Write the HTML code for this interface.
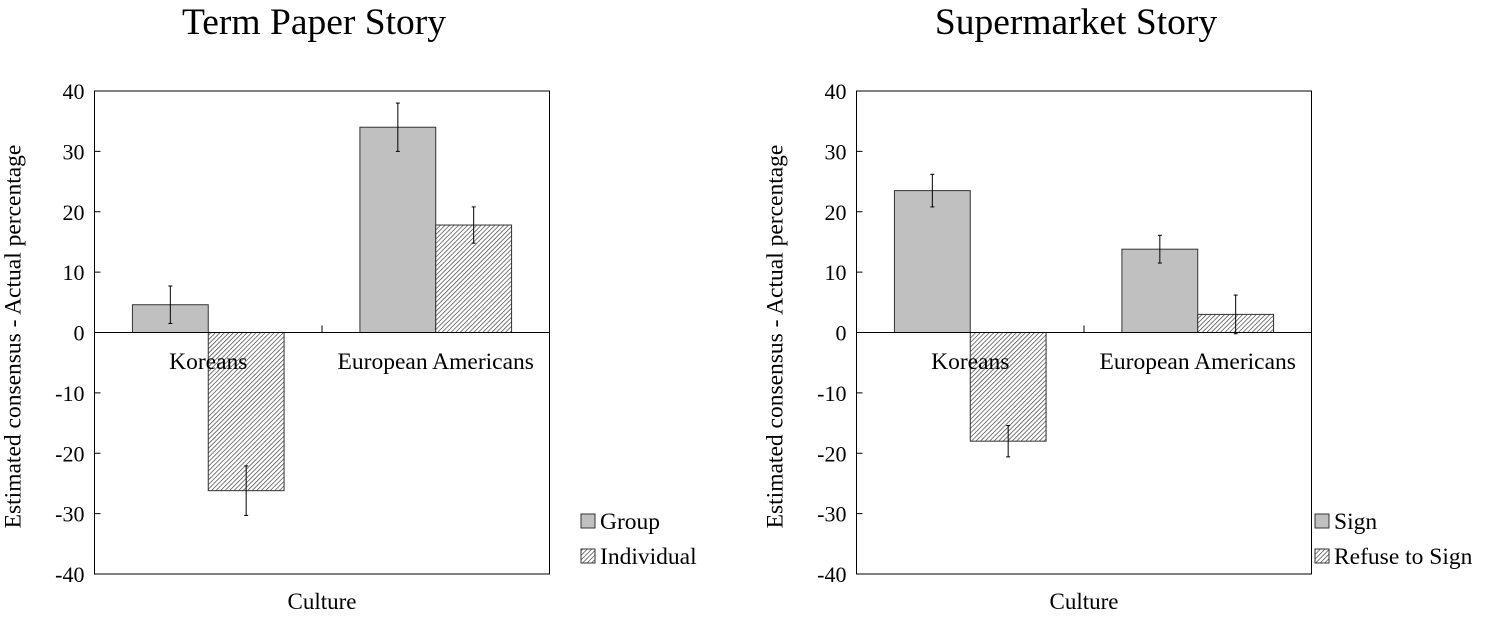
<!DOCTYPE html>
<html><head><meta charset="utf-8"><style>
body{margin:0;background:#fff;}
svg text{font-family:"Liberation Serif",serif;fill:#000;}
</style></head><body>
<svg id="svg" width="1492" height="622" xmlns="http://www.w3.org/2000/svg">
<defs>
<pattern id="hatch" patternUnits="userSpaceOnUse" width="3.2" height="3.2" patternTransform="rotate(45)">
<rect width="3.2" height="3.2" fill="#fff"/><line x1="0" y1="0" x2="0" y2="3.2" stroke="#444" stroke-width="1.4"/>
</pattern>
</defs>
</svg>
<script>
const categories = ["Koreans", "European Americans"];
const yTicks = [40, 30, 20, 10, 0, -10, -20, -30, -40];
const termSeries = ["Group", "Individual"];
const termGroup = [4.6, 34];
const termIndividual = [-26.2, 17.8];
const termGroupErr = [3.1, 4];
const termIndividualErr = [4.1, 3];
const superSeries = ["Sign", "Refuse to Sign"];
const superSign = [23.5, 13.8];
const superRefuse = [-18, 3];
const superSignErr = [2.7, 2.3];
const superRefuseErr = [2.6, 3.2];

const svg = document.getElementById('svg');
const NS = 'http://www.w3.org/2000/svg';
function mk(tag, attrs, parent){const e=document.createElementNS(NS,tag);for(const k in attrs)e.setAttribute(k,attrs[k]);(parent||svg).appendChild(e);return e;}

function chart(opt){
  const g = mk('g',{});
  
  
  const L=opt.left, R=opt.left+455, T=91, B=574;
  const y = v => T + (40 - v) / 80 * (B - T);
  const catW = (R-L)/categories.length;
  const t = mk('text',{x:opt.titleX,y:34,'font-size':37.5,'text-anchor':'middle'},g); t.textContent=opt.title;
  
  
  const frame = mk('rect',{x:L,y:T,width:R-L,height:B-T,fill:'none',stroke:'#000','stroke-width':1},g);
  
  
  yTicks.forEach(v=>{
    mk('line',{x1:L,x2:L+6,y1:y(v),y2:y(v),stroke:'#000'},g);
    const tl = mk('text',{x:L-10,y:y(v)+8,'font-size':22,'text-anchor':'end'},g); tl.textContent=v;
    
    
  });
  mk('line',{x1:L+catW,x2:L+catW,y1:y(0)-7,y2:y(0),stroke:'#000'},g);
  const bw = catW/3;
  const series=[[opt.a,opt.aErr,'#c0c0c0'],[opt.b,opt.bErr,'url(#hatch)']];
  categories.forEach((c,i)=>{
    const cx = L + catW*(i+0.5);
    series.forEach((s,j)=>{
      const v=s[0][i], x=cx-bw+j*bw;
      const r = mk('rect',{x:x,y:Math.min(y(v),y(0)),width:bw,height:Math.abs(y(v)-y(0)),fill:s[2],stroke:'#333','stroke-width':1},g);
      
      
      const e=s[1][i], mx=x+bw/2;
      mk('line',{x1:mx,x2:mx,y1:y(v+e),y2:y(v-e),stroke:'#000'},g);
      mk('line',{x1:mx-2,x2:mx+2,y1:y(v+e),y2:y(v+e),stroke:'#000'},g);
      mk('line',{x1:mx-2,x2:mx+2,y1:y(v-e),y2:y(v-e),stroke:'#000'},g);
    });
    const cl = mk('text',{x:cx,y:369,'font-size':23.5,'text-anchor':'middle'},g); cl.textContent=c;
    
    
  });
  mk('line',{x1:L,x2:R,y1:y(0),y2:y(0),stroke:'#000'},g);
  const xt = mk('text',{x:(L+R)/2,y:609,'font-size':23,'text-anchor':'middle'},g); xt.textContent='Culture';
  
  
  const yt = mk('text',{x:0,y:0,'font-size':23.5,'text-anchor':'middle',transform:`translate(${L-74},${(T+B)/2+4}) rotate(-90)`},g);
  yt.textContent='Estimated consensus - Actual percentage';
  
  
  opt.series.forEach((s,j)=>{
    const ly = 514 + j*35;
    mk('rect',{x:opt.legendX,y:ly,width:14,height:14,fill:j?'url(#hatch)':'#c0c0c0',stroke:'#333'},g);
    const lt = mk('text',{x:opt.legendX+19,y:ly+15,'font-size':23.5},g); lt.textContent=s;
    
    
  });
}
chart({name:'term-paper-chart',title:'Term Paper Story',titleX:314,left:94.5,legendX:581,a:termGroup,b:termIndividual,aErr:termGroupErr,bErr:termIndividualErr,series:termSeries});
chart({name:'supermarket-chart',title:'Supermarket Story',titleX:1076,left:856.5,legendX:1315,a:superSign,b:superRefuse,aErr:superSignErr,bErr:superRefuseErr,series:superSeries});
</script>
</body></html>
